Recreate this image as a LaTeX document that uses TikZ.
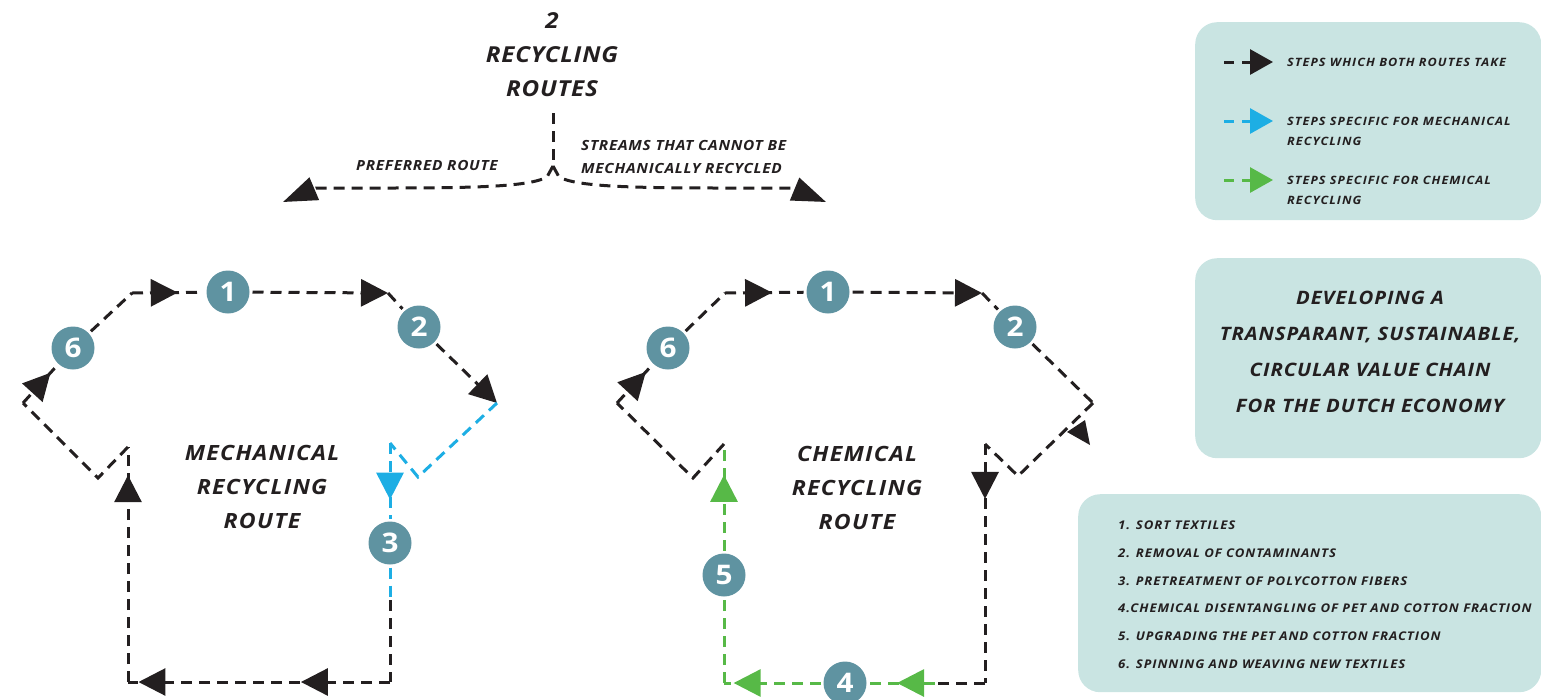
\documentclass[tikz,border=0pt]{standalone}
\usepackage{fontspec}
\setmainfont{Open Sans}[FakeStretch=1.1]
\usetikzlibrary{arrows.meta,decorations.markings,positioning,calc}

\definecolor{ink}{HTML}{231F20}
\definecolor{mechblue}{HTML}{1DAEE4}
\definecolor{chemgreen}{HTML}{57B947}
\definecolor{stepteal}{HTML}{5F93A1}
\definecolor{panelfill}{HTML}{C9E4E2}

\begin{document}
\begin{tikzpicture}[x=1pt,y=-1pt,
  route/.style={line width=3pt,dash pattern=on 11pt off 7pt},
  blk/.style={route,draw=ink},
  mech/.style={route,draw=mechblue},
  chem/.style={route,draw=chemgreen},
  keydash/.style={dash pattern=on 10pt off 8pt,shorten >=14pt,-{Triangle[length=23pt,width=25pt]}},
  headend/.style={-{Triangle[length=27pt,width=27pt]}},
  arrowat/.style={postaction={decorate,decoration={markings,mark=at position #1 with {\arrow{Triangle[length=27pt,width=27pt]}}}}},
  stepnum/.style={circle,fill=stepteal,text=white,minimum size=43pt,inner sep=0pt,outer sep=3pt,font=\fontsize{27}{27}\selectfont\bfseries},
  headtext/.style={align=center,inner sep=0pt,text=ink,font=\fontsize{22}{34}\selectfont\bfseries\itshape\addfontfeatures{LetterSpace=3.5}},
  routetext/.style={align=center,inner sep=0pt,text=ink,font=\fontsize{21}{34}\selectfont\bfseries\itshape\addfontfeatures{LetterSpace=6}},
  forktext/.style={align=left,inner sep=0pt,text=ink,font=\fontsize{14}{23}\selectfont\bfseries\itshape\addfontfeatures{LetterSpace=5}},
  keytext/.style={align=left,inner sep=0pt,text=ink,font=\fontsize{11.5}{20}\selectfont\bfseries\itshape\addfontfeatures{LetterSpace=9}},
  aimtext/.style={align=center,inner sep=0pt,text=ink,font=\fontsize{18.5}{36}\selectfont\bfseries\itshape\addfontfeatures{LetterSpace=5}},
  listtext/.style={align=left,inner sep=0pt,text=ink,font=\fontsize{12}{27.8}\selectfont\bfseries\itshape\addfontfeatures{LetterSpace=7.5}},
  panel/.style={fill=panelfill,rounded corners=22pt,inner sep=0pt,anchor=north west}]
\useasboundingbox (0,0) rectangle (1541,699);

% title and the fork
\node[headtext] (title) at (552,55) {2\\RECYCLING\\ROUTES};
\node[forktext,anchor=center] (pref) at (427,165) {PREFERRED ROUTE};
\node[forktext,anchor=west] (streams) at (581,156.5) {STREAMS THAT CANNOT BE\\MECHANICALLY RECYCLED};
\coordinate (jtop) at (553,113);
\coordinate (jct) at (553,166);
\coordinate (lbend) at (316,188);
\coordinate (ltip) at (283,202);
\coordinate (rbend) at (792,188);
\coordinate (rtip) at (826,202);
\draw[blk] (jtop) -- (jct);
\draw[blk,-{Triangle[length=34pt,width=24pt]}] (jct) -- ++(-6,11) .. controls (525,189) and (450,188) .. (lbend) -- (ltip);
\draw[blk,-{Triangle[length=34pt,width=24pt]}] (jct) -- ++(6,11) .. controls (581,189) and (660,188) .. (rbend) -- (rtip);

% mechanical shirt
\coordinate (mTL) at (132,293);
\coordinate (mTR) at (388,293);
\coordinate (mLS) at (23,403);
\coordinate (mLB) at (98,478);
\coordinate (mLA) at (128,447);
\coordinate (mBL) at (128,682);
\coordinate (mBR) at (390,682);
\coordinate (mRm) at (390,600);
\coordinate (mRA) at (390,443);
\coordinate (mRB) at (418,477);
\coordinate (mRS) at (497,403);
\node[stepnum] (m1) at (228,292) {1};
\node[stepnum] (m2) at (419,327) {2};
\node[stepnum] (m3) at (390,543) {3};
\node[stepnum] (m6) at (73,348) {6};
\node[routetext] (mechtxt) at (262,487) {MECHANICAL\\RECYCLING\\ROUTE};
\draw[blk,arrowat=0.64] (mTL) -- (m1);
\draw[blk,headend] (m1) -- (mTR);
\draw[blk] (mTR) -- (m2);
\draw[blk,headend] (m2) -- (mRS);
\draw[mech] (mRS) -- (mRB) -- (mRA);
\draw[mech,arrowat=0.75] (mRA) -- (m3);
\draw[mech] (m3) -- (mRm);
\draw[blk] (mRm) -- (mBR);
\draw[blk,arrowat=0.34,arrowat=0.96] (mBR) -- (mBL);
\draw[blk,arrowat=0.88] (mBL) -- (mLA);
\draw[blk] (mLA) -- (mLB) -- (mLS);
\draw[blk,arrowat=0.82] (mLS) -- (m6);
\draw[blk] (m6) -- (mTL);

% chemical shirt
\coordinate (cTL) at (725,293);
\coordinate (cTR) at (982,293);
\coordinate (cLS) at (617,403);
\coordinate (cLB) at (693,478);
\coordinate (cLA) at (724,444);
\coordinate (cBL) at (724,683);
\coordinate (cBm) at (935,683);
\coordinate (cBR) at (985,683);
\coordinate (cRA) at (985,444);
\coordinate (cRB) at (1018,476);
\coordinate (cRS) at (1093,403);
\node[stepnum] (c1) at (828,292) {1};
\node[stepnum] (c2) at (1015,327) {2};
\node[stepnum] (c4) at (845,683) {4};
\node[stepnum] (c5) at (724,575) {5};
\node[stepnum] (c6) at (668,348) {6};
\node[routetext] (chemtxt) at (857,488) {CHEMICAL\\RECYCLING\\ROUTE};
\draw[blk,arrowat=0.6] (cTL) -- (c1);
\draw[blk,headend] (c1) -- (cTR);
\draw[blk] (cTR) -- (c2);
\draw[blk] (c2) -- (cRS);
\draw[blk] (cRS) -- (cRB) -- (cRA);
\draw[blk,arrowat=0.23] (cRA) -- (cBR);
\draw[blk] (cBR) -- (cBm);
\draw[chem,arrowat=0.58] (cBm) -- (c4);
\draw[chem,arrowat=0.9] (c4) -- (cBL);
\draw[chem] (cBL) -- (c5);
\draw[chem,arrowat=0.71] (c5) -- (cLA);
\draw[blk] (cLA) -- (cLB) -- (cLS);
\draw[blk,arrowat=0.84] (cLS) -- (c6);
\draw[blk] (c6) -- (cTL);
\fill[ink] (1067,432) -- (1085,420) -- (1090,445) -- cycle;

% legend
\node[panel,minimum width=346pt,minimum height=198pt] (keybox) at (1195,22) {};
\coordinate (kblk) at (1224,62);
\coordinate (kmech) at (1224,121);
\coordinate (kchem) at (1224,180);
\node[keytext,anchor=west] (kblktxt) at (1287,62) {STEPS WHICH BOTH ROUTES TAKE};
\node[keytext,anchor=north west] (kmechtxt) at (1287,116.5) {STEPS SPECIFIC FOR MECHANICAL\\RECYCLING};
\node[keytext,anchor=north west] (kchemtxt) at (1287,175.5) {STEPS SPECIFIC FOR CHEMICAL\\RECYCLING};
\draw[line width=3pt,draw=ink,keydash] (kblk) -- (kblk -| kblktxt.west);
\draw[line width=3pt,draw=mechblue,keydash] (kmech) -- (kmech -| kmechtxt.west);
\draw[line width=3pt,draw=chemgreen,keydash] (kchem) -- (kchem -| kchemtxt.west);

% aim
\node[panel,minimum width=346pt,minimum height=200pt] (aimbox) at (1195,258) {};
\node[aimtext] (aimtxt) at (1370,352) {DEVELOPING A\\TRANSPARANT, SUSTAINABLE,\\CIRCULAR VALUE CHAIN\\FOR THE DUTCH ECONOMY};

% steps list
\node[panel,minimum width=463pt,minimum height=198pt] (stepbox) at (1078,494) {};
\node[listtext,anchor=north west] (steplist) at (1118,520.5) {1. SORT TEXTILES\\2. REMOVAL OF CONTAMINANTS\\3. PRETREATMENT OF POLYCOTTON FIBERS\\4.CHEMICAL DISENTANGLING OF PET AND COTTON FRACTION\\5. UPGRADING THE PET AND COTTON FRACTION\\6. SPINNING AND WEAVING NEW TEXTILES};
\end{tikzpicture}
\end{document}
